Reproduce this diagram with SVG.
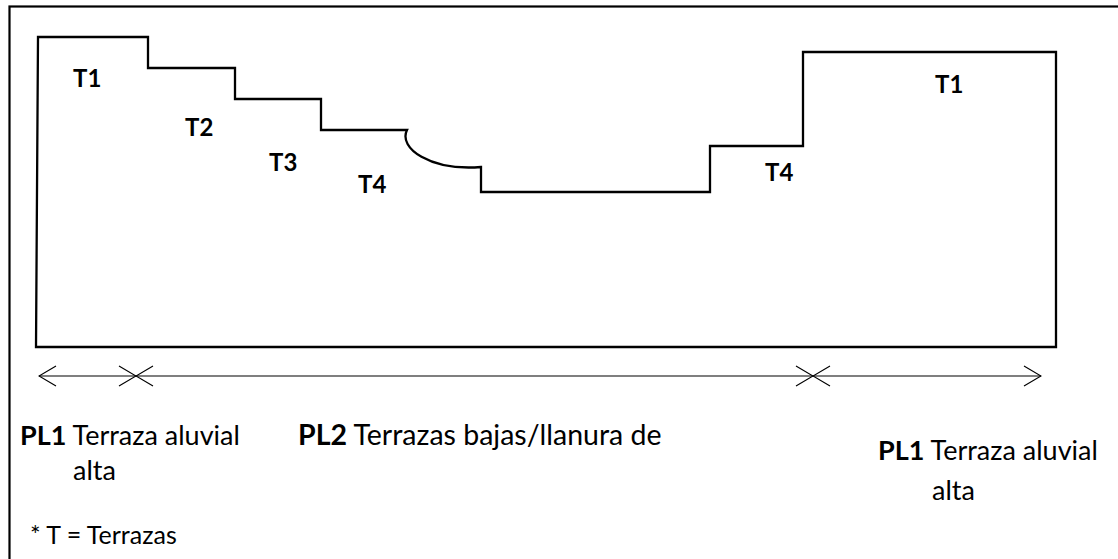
<svg xmlns="http://www.w3.org/2000/svg" width="1118" height="559" viewBox="0 0 1118 559">
<style>
.frame{fill:none;stroke:#000;stroke-width:2.2}
.prof{fill:none;stroke:#000;stroke-width:2.3;stroke-linejoin:miter}
.arr{stroke:#000;stroke-width:1.2;fill:none}
.t{font-family:Lato,"Liberation Sans",sans-serif;font-weight:bold;font-size:24px;fill:#000}
.lab{font-family:Lato,"Liberation Sans",sans-serif;font-size:27px;fill:#000}
.lab2{font-family:Lato,"Liberation Sans",sans-serif;font-size:28.5px;fill:#000}
.note{font-family:Lato,"Liberation Sans",sans-serif;font-size:25px;fill:#000}
.b{font-weight:bold}
</style>
<defs>
<marker id="chev" viewBox="0 0 19 22" refX="18" refY="11" markerWidth="19" markerHeight="22" markerUnits="userSpaceOnUse" orient="auto-start-reverse">
<path d="M1,1 L18,11 L1,21" fill="none" stroke="#000" stroke-width="1.2"/>
</marker>
</defs>
<rect class="frame" x="9.5" y="6.5" width="1200" height="600"/>
<g id="profile">
<path class="prof" d="M38,37 L148,37 L148,68 L235,68 L235,99 L321,99 L321,130 L407,130 C398,148 430,171 481,167 L481,192 L710,192 L710,146 L803,146 L803,52 L1056,52 L1056,347 L36,347 Z"/>
</g>
<g id="terrace-labels">
<text class="t" x="73" y="87">T1</text>
<text class="t" x="185" y="136">T2</text>
<text class="t" x="269" y="171">T3</text>
<text class="t" x="358" y="193">T4</text>
<text class="t" x="765" y="181">T4</text>
<text class="t" x="935" y="93">T1</text>
</g>
<g id="connectors">
<line class="arr" x1="39" y1="376" x2="136" y2="376" marker-start="url(#chev)" marker-end="url(#chev)"/>
<line class="arr" x1="136" y1="376" x2="813" y2="376" marker-start="url(#chev)" marker-end="url(#chev)"/>
<line class="arr" x1="813" y1="376" x2="1041" y2="376" marker-start="url(#chev)" marker-end="url(#chev)"/>
</g>
<g id="pl1-left">
<text class="lab" x="20" y="445"><tspan class="b">PL1</tspan> Terraza aluvial</text>
<text class="lab" x="73" y="480">alta</text>
</g>
<g id="pl2">
<text class="lab2" x="298" y="445"><tspan class="b">PL2</tspan> Terrazas bajas/llanura de</text>
</g>
<g id="pl1-right">
<text class="lab" x="878" y="460"><tspan class="b">PL1</tspan> Terraza aluvial</text>
<text class="lab" x="932" y="500">alta</text>
</g>
<g id="note">
<text class="note" x="30" y="544">* T = Terrazas</text>
</g>
</svg>
